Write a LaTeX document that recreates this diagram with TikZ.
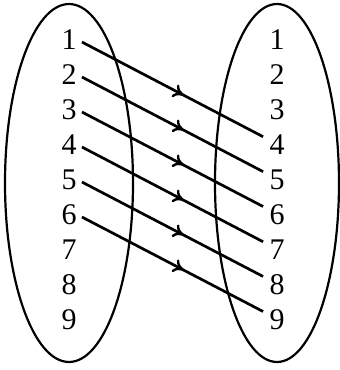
\documentclass[tikz,border=0pt]{standalone}
\usepackage{fontspec}
\setmainfont{Liberation Serif}
\usetikzlibrary{arrows.meta,decorations.markings}
\begin{document}
\begin{tikzpicture}[x=0.5pt,y=-0.5pt,
  lab/.style={font=\fontsize{15pt}{15pt}\selectfont, inner sep=1pt},
  setline/.style={line width=1.1pt},
  mapline/.style={line width=1.35pt, postaction={decorate},
    decoration={markings, mark=at position 0.56 with {\arrow{To[length=5pt,width=7pt,line width=1.2pt]}}}}]
\useasboundingbox (0,0) rectangle (340,370);
\draw[setline] (69,183) ellipse [x radius=64, y radius=179];
\draw[setline] (277,183) ellipse [x radius=62, y radius=179];
\foreach \i in {1,...,9}{
  \node[lab] (L\i) at (69,{40+35*(\i-1)}) {\i};
  \node[lab] (R\i) at (277,{40+35*(\i-1)}) {\i};
}
\foreach \i [evaluate=\i as \j using int(\i+3)] in {1,...,6}{
  \coordinate (s\i) at ([xshift=1.5pt,yshift=-1pt]L\i.east);
  \coordinate (e\i) at ([xshift=-2pt,yshift=-2pt]R\j.north west);
  \draw[mapline] (s\i) -- (e\i);
}
\end{tikzpicture}
\end{document}
